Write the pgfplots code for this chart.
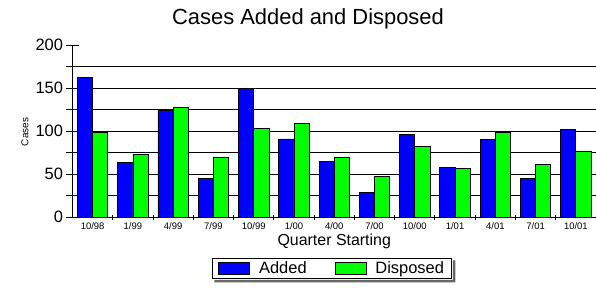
\documentclass[border=0pt]{standalone}
\usepackage{fontspec}
\setmainfont{Liberation Sans}
\usepackage{pgfplots}
\pgfplotsset{compat=1.18}
\begin{document}
\begin{tikzpicture}
\path[use as bounding box] (0,0) rectangle (596bp,-288bp);
\node[font=\fontsize{22}{26}\selectfont, inner sep=0pt] at (308bp,-18.5bp) {Cases Added and Disposed};
\begin{axis}[
  at={(72.5bp,-217.3bp)}, anchor=south west,
  scale only axis, width=523.5bp, height=172.3bp,
  xmin=-0.5, xmax=12.5, ymin=0, ymax=200,
  ybar=0pt, bar width=15.2bp,
  axis x line*=bottom, axis y line*=left,
  axis line style={line width=1.2bp, -},
  /pgf/number format/assume math mode=true,
  xtick={0,...,12},
  xticklabels={10/98,1/99,4/99,7/99,10/99,1/00,4/00,7/00,10/00,1/01,4/01,7/01,10/01},
  major x tick style={draw=none},
  minor xtick={0.5,1.5,...,11.5},
  minor tick length=5bp,
  minor x tick style={draw=black, line width=1bp},
  x tick label style={font=\fontsize{9.5}{11}\selectfont, yshift=4bp},
  ytick={0,25,...,175},
  yticklabels={0,,50,,100,,150,},
  extra y ticks={200},
  extra y tick labels={200},
  extra y tick style={grid=none},
  y tick label style={font=\fontsize{16.5}{18}\selectfont},
  tick align=center,
  major tick length=12bp,
  major y tick style={draw=black, line width=1bp},
  ymajorgrids,
  major grid style={draw=black, line width=1bp},
  xlabel={Quarter Starting},
  xlabel style={at={(axis description cs:0.5,-0.14)}, anchor=center, font=\fontsize{16}{18}\selectfont},
  ylabel={Cases},
  ylabel style={at={(axis description cs:-0.0907,0.495)}, anchor=center, font=\fontsize{10}{12}\selectfont},
  legend columns=2,
  legend style={name=leg, at={(0.496,-0.298)}, anchor=center, draw=black, line width=1bp, fill=white,
    font=\fontsize{16.5}{18}\selectfont,
    /tikz/every odd column/.append style={column sep=7bp},
    /tikz/every even column/.append style={column sep=26bp},
    inner xsep=6bp, inner ysep=1.5bp},
  legend image code/.code={\draw[#1, line width=0.8bp] (0bp,-6bp) rectangle (31bp,6bp);},
]
\addplot[fill=blue, draw=black, line width=0.8bp] coordinates {
(0,162) (1,64) (2,124) (3,45) (4,150) (5,91) (6,65) (7,29) (8,96) (9,58) (10,90) (11,45) (12,102)};
\addplot[fill=green, draw=black, line width=0.8bp] coordinates {
(0,98) (1,73) (2,128) (3,70) (4,103) (5,109) (6,70) (7,47) (8,82) (9,57) (10,98) (11,61) (12,77)};
\legend{Added,Disposed}
\end{axis}
\fill[gray!80!black] ([xshift=0.5bp,yshift=-2.5bp]leg.north east) -- ([xshift=3bp,yshift=-2.5bp]leg.north east)
  -- ([xshift=3bp,yshift=-3bp]leg.south east) -- ([xshift=2.5bp,yshift=-3bp]leg.south west)
  -- ([xshift=2.5bp,yshift=-0.5bp]leg.south west) -- ([xshift=0.5bp,yshift=-0.5bp]leg.south east) -- cycle;
\end{tikzpicture}
\end{document}
